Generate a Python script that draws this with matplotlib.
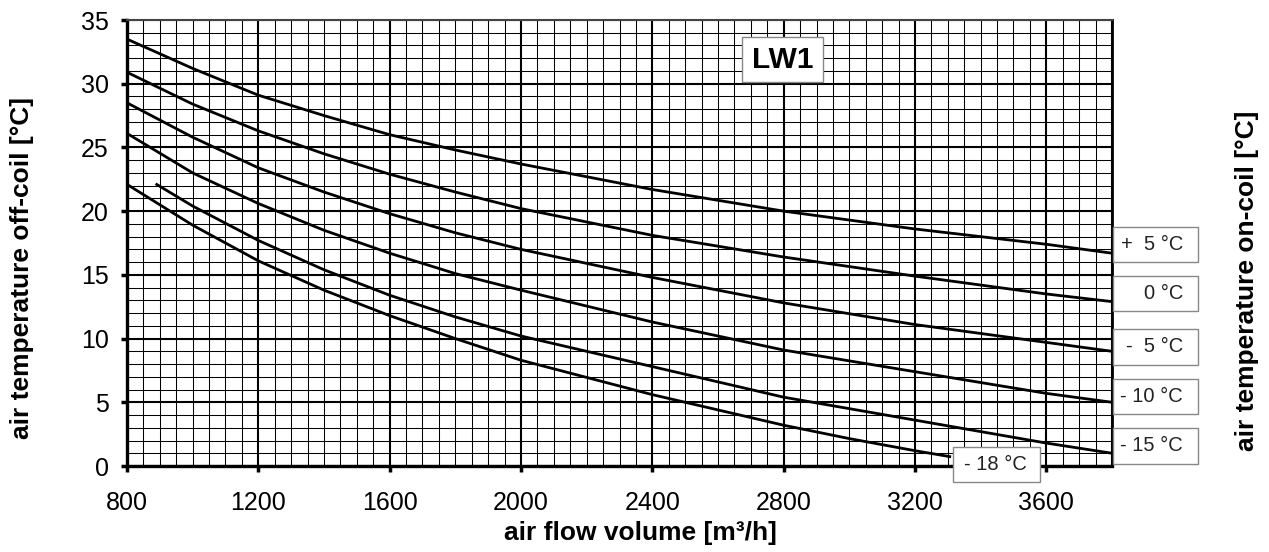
import matplotlib
matplotlib.use("Agg")
import matplotlib.pyplot as plt
from matplotlib.patches import Rectangle
from matplotlib.ticker import MultipleLocator

plt.rcParams['font.family'] = ['Liberation Sans', 'DejaVu Sans']

# air flow volume [m3/h]
x_main = [800, 1000, 1200, 1400, 1600, 1800, 2000, 2400, 2800, 3200, 3600, 3800]
t_plus5 = [33.5, 31.2, 29.1, 27.5, 26.0, 24.8, 23.7, 21.7, 20.0, 18.6, 17.4, 16.7]
t_0 = [30.9, 28.4, 26.3, 24.5, 22.9, 21.5, 20.2, 18.1, 16.4, 14.9, 13.5, 12.9]
t_minus5 = [28.5, 25.8, 23.4, 21.5, 19.8, 18.3, 17.0, 14.8, 12.8, 11.1, 9.7, 9.0]
t_minus10 = [26.1, 23.0, 20.6, 18.5, 16.7, 15.1, 13.8, 11.3, 9.1, 7.4, 5.7, 5.0]

x_m15 = [887, 1000, 1200, 1400, 1600, 1800, 2000, 2400, 2800, 3200, 3600, 3800]
t_minus15 = [22.15, 20.4, 17.7, 15.4, 13.4, 11.7, 10.2, 7.8, 5.4, 3.6, 1.8, 1.0]

x_m18 = [800, 1000, 1200, 1400, 1600, 1800, 2000, 2400, 2800, 3000, 3200, 3310]
t_minus18 = [22.1, 18.9, 16.1, 13.8, 11.8, 10.0, 8.3, 5.6, 3.2, 2.15, 1.2, 0.72]

x_ticks = [800, 1200, 1600, 2000, 2400, 2800, 3200, 3600]
y_ticks = [0, 5, 10, 15, 20, 25, 30, 35]

right_labels = ["+  5 °C", "0 °C", "-  5 °C", "- 10 °C", "- 15 °C"]
right_label_y = [17.39, 13.5, 9.34, 5.49, 1.57]

W, H = 1269, 552
fig = plt.figure(figsize=(W / 100, H / 100), dpi=100)
ax = fig.add_axes([127 / W, (H - 466) / H, 985 / W, 446 / H])
ax.set_xlim(800, 3800)
ax.set_ylim(0, 35)

ax.xaxis.set_minor_locator(MultipleLocator(50))
ax.yaxis.set_minor_locator(MultipleLocator(1))
ax.set_xticks(x_ticks)
ax.set_yticks(y_ticks)
ax.grid(which='major', color='black', lw=1.5, zorder=1)
ax.grid(which='minor', color='black', lw=0.75, zorder=1)
ax.axvline(3800, color='black', lw=1.5, zorder=1)
ax.set_axisbelow(True)
ax.tick_params(which='major', direction='out', length=4, width=2.5, labelsize=18, color='black')
ax.tick_params(axis='x', which='major', pad=14)
ax.tick_params(axis='y', which='major', pad=9)
ax.tick_params(which='minor', length=0)
for s in ['left', 'bottom']:
    ax.spines[s].set_linewidth(2.4)
ax.spines['right'].set_linewidth(2.0)
ax.spines['top'].set_linewidth(1.5)
ax.spines['top'].set_color('#444444')

for xs, ys in [(x_main, t_plus5), (x_main, t_0), (x_main, t_minus5), (x_main, t_minus10),
               (x_m15, t_minus15), (x_m18, t_minus18)]:
    ax.plot(xs, ys, color='black', lw=2.0, zorder=3, solid_capstyle='butt',
            solid_joinstyle='round')

fig.text(640 / W, 1 - 533 / H, "air flow volume [m³/h]", fontsize=19, fontweight='bold',
         ha='center', va='center')
fig.text(22 / W, 1 - 268 / H, "air temperature off-coil [°C]", rotation=90,
         fontsize=19, fontweight='bold', ha='center', va='center')
fig.text(1247 / W, 1 - 281 / H, "air temperature on-coil [°C]", rotation=90,
         fontsize=19, fontweight='bold', ha='center', va='center')

# LW1 box
ax.add_patch(Rectangle((2673, 30.1), 247, 3.6, facecolor='white', edgecolor='#888888',
                       lw=1.0, zorder=5))
ax.text(2797, 31.9, "LW1", fontsize=21.5, fontweight='bold', ha='center', va='center', zorder=6)

# right labels
box_h = 2.75
for lab, yc in zip(right_labels, right_label_y):
    ax.add_patch(Rectangle((3803, yc - box_h / 2), 259, box_h, facecolor='white',
                           edgecolor='#888888', lw=1.0, zorder=5, clip_on=False))
    ax.text(4016, yc, lab, fontsize=14.5, ha='right', va='center', color='#222222',
            zorder=6, clip_on=False)

# -18 label
ax.add_patch(Rectangle((3316, -1.26), 265, 2.75, facecolor='white', edgecolor='#888888',
                       lw=1.0, zorder=5, clip_on=False))
ax.text(3444, 0.12, "- 18 °C", fontsize=14.5, ha='center', va='center', color='#222222',
        zorder=6, clip_on=False)

fig.savefig("out.png", dpi=100)
